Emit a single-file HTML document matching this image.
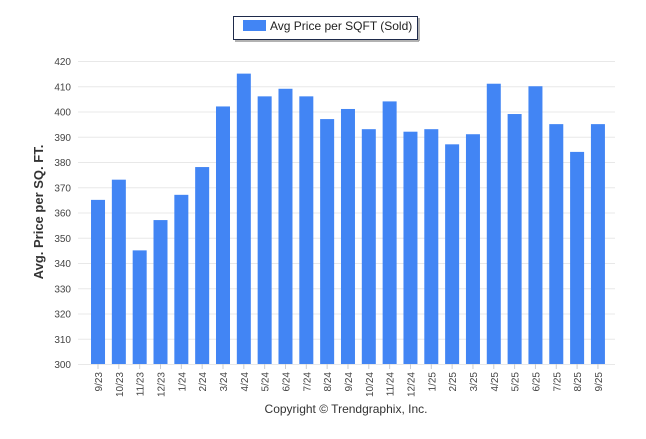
<!DOCTYPE html>
<html><head><meta charset="utf-8"><style>
body{margin:0;background:#fff;font-family:"Liberation Sans",sans-serif;}
</style></head><body>
<svg id="c" width="646" height="434" xmlns="http://www.w3.org/2000/svg">
<g>
<rect x="233.5" y="16.5" width="184" height="23" fill="#fff" stroke="#1e2a4a" stroke-width="1"/>
<line x1="235" y1="41" x2="419" y2="41" stroke="#999" stroke-width="1.5"/>
<line x1="419" y1="18" x2="419" y2="41" stroke="#999" stroke-width="1.5"/>
<rect x="243" y="20" width="23" height="11" fill="#4285f4"/>
<text x="270" y="30" font-size="12" fill="#222">Avg Price per SQFT (Sold)</text>
</g>
<text transform="translate(43,212) rotate(-90)" text-anchor="middle" font-size="13" font-weight="bold" fill="#333">Avg. Price per SQ. FT.</text>
<g id="grid"></g><g id="bars"></g><g id="xl"></g>
<text x="346" y="413" text-anchor="middle" font-size="12" fill="#333">Copyright © Trendgraphix, Inc.</text>
</svg>
<script>
const categories=["9/23","10/23","11/23","12/23","1/24","2/24","3/24","4/24","5/24","6/24","7/24","8/24","9/24","10/24","11/24","12/24","1/25","2/25","3/25","4/25","5/25","6/25","7/25","8/25","9/25"];
const values=[365,373,345,357,367,378,402,415,406,409,406,397,401,393,404,392,393,387,391,411,399,410,395,384,395];
const yTicks=[300,310,320,330,340,350,360,370,380,390,400,410,420];
const NS="http://www.w3.org/2000/svg";
const y0=364,y1=61,vmin=300,vmax=420,xs=87.6,band=20.83,bw=14;
const y=v=>y0-(v-vmin)/(vmax-vmin)*(y0-y1);
const x=i=>xs+band*i+band/2;
function mk(t,a,p){const e=document.createElementNS(NS,t);for(const k in a)e.setAttribute(k,a[k]);p.appendChild(e);return e;}
const g=document.getElementById('grid');
yTicks.forEach(t=>{
 const l=mk('line',{x1:78,x2:615,y1:y(t)+0.5,y2:y(t)+0.5,stroke:'#e8e8e8'},g);
 
 
 const tx=mk('text',{x:71,y:y(t)+4,'text-anchor':'end','font-size':10,fill:'#444'},g);
 tx.textContent=t;
 
 
});
const b=document.getElementById('bars');
values.forEach((v,i)=>{
 const r=mk('rect',{x:x(i)-bw/2,y:y(v),width:bw,height:y0-y(v),fill:'#4285f4'},b);
 
 
});
const xl=document.getElementById('xl');
categories.forEach((c,i)=>{
 mk('line',{x1:x(i),x2:x(i),y1:y0,y2:y0+5,stroke:'#ccc'},xl);
 const t=mk('text',{transform:`translate(${x(i)+4},${y0+8}) rotate(-90)`,'text-anchor':'end','font-size':10,fill:'#444'},xl);
 t.textContent=c;
 
 
});
</script>
</body></html>
